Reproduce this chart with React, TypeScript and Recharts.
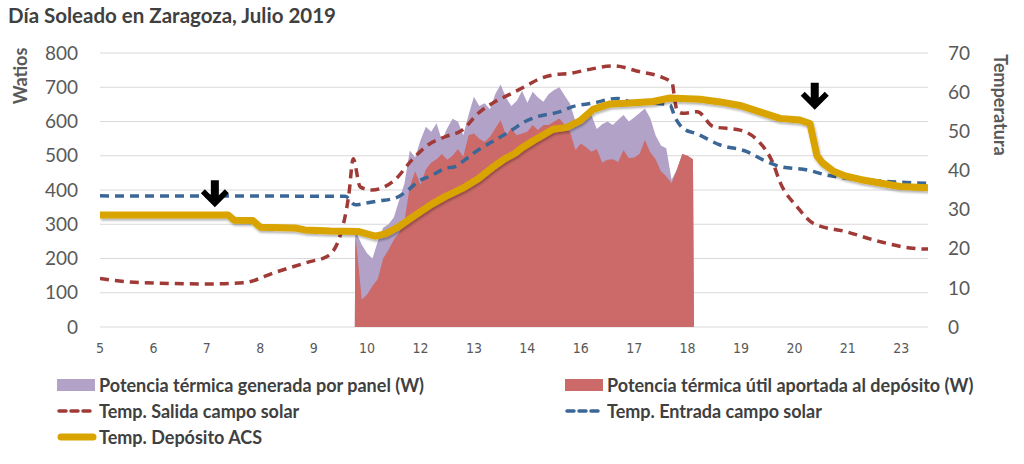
import React from 'react';
import {
  ComposedChart,
  Area,
  Line,
  XAxis,
  YAxis,
  CartesianGrid,
  ReferenceDot,
} from 'recharts';

// Eje X: posición en "huecos" de la etiqueta de hora (eje de categorías de Excel)
const X_LABELS = ['5', '6', '7', '8', '9', '10', '12', '13', '14', '16', '17', '18', '19', '20', '21', '23'];
const X_TICKS = [0, 1, 2, 3, 4, 5, 6, 7, 8, 9, 10, 11, 12, 13, 14, 15];

// Potencias (W)
const T_AREA = [
  4.77, 4.78, 4.8, 4.9, 5.0, 5.1, 5.2, 5.3, 5.4, 5.5, 5.6, 5.7, 5.8, 5.9, 6.0, 6.1, 6.2, 6.3, 6.4,
  6.5, 6.6, 6.7, 6.8, 6.9, 7.0, 7.1, 7.2, 7.3, 7.4, 7.5, 7.6, 7.7, 7.8, 7.9, 8.0, 8.1, 8.2, 8.3,
  8.4, 8.5, 8.6, 8.7, 8.8, 8.9, 9.0, 9.1, 9.2, 9.3, 9.4, 9.5, 9.6, 9.7, 9.8, 9.9, 10.0, 10.1,
  10.2, 10.3, 10.4, 10.5, 10.6, 10.7, 10.8, 10.9, 11.0, 11.1, 11.12,
];
const GENERADA = [
  0, 270, 275, 240, 215, 200, 250, 290, 300, 320, 370, 420, 515, 495, 545, 585, 570, 595, 545,
  580, 608, 600, 560, 620, 672, 645, 653, 636, 680, 708, 670, 645, 660, 690, 655, 687, 670, 658,
  680, 692, 700, 675, 652, 600, 610, 628, 618, 578, 592, 600, 590, 605, 619, 600, 612, 625,
  638, 610, 560, 530, 522, 430, 460, 505, 500, 490, 0,
];
const UTIL = [
  0, 265, 240, 80, 95, 120, 140, 200, 225, 255, 275, 310, 410, 455, 415, 460, 480, 490, 505,
  488, 500, 520, 497, 560, 565, 550, 541, 555, 580, 604, 560, 580, 560, 565, 570, 590, 575, 590,
  590, 600, 609, 590, 570, 517, 536, 525, 512, 520, 480, 488, 490, 482, 517, 493, 495, 505,
  546, 510, 490, 455, 440, 420, 460, 505, 500, 490, 0,
];

// Temperaturas (ºC)
const T_SALIDA = [
  0, 0.8, 2.06, 2.68, 3.31, 3.93, 4.25, 4.49, 4.66, 4.74, 4.87, 5.09, 5.52, 5.84, 6.14, 6.46,
  6.78, 7.08, 7.4, 7.71, 8.03, 8.18, 8.48, 8.8, 9.12, 9.61, 10.11, 10.48, 10.71, 10.76, 10.8,
  10.91, 11.18, 11.48, 11.98, 12.3, 12.6, 12.73, 13.05, 13.35, 13.98, 14.6, 15.22, 15.5,
];
const SALIDA = [
  12.4, 11.3, 11.0, 11.3, 14.1, 16.7, 18.0, 23.1, 34.0, 43.0, 35.8, 35.0, 37.6, 42.7, 46.5, 48.6,
  50.3, 54.6, 57.6, 59.7, 62.0, 63.1, 64.4, 64.8, 65.7, 66.7, 65.2, 64.0, 62.3, 58.0, 55.4,
  54.6, 55.0, 51.2, 50.3, 47.8, 41.8, 37.0, 30.7, 26.5, 24.3, 21.8, 20.1, 19.9,
];

const T_ENTRADA = [
  0, 4.59, 4.78, 4.96, 5.21, 5.52, 5.77, 5.95, 6.22, 6.46, 6.65, 6.83, 7.08, 7.4, 7.71, 7.96,
  8.18, 8.61, 8.85, 9.23, 9.68, 9.92, 10.35, 10.67, 10.76, 10.91, 11.18, 11.61, 12.11, 12.41,
  12.73, 13.24, 13.61, 13.98, 14.6, 15.5,
];
const ENTRADA = [
  33.5, 33.4, 31.2, 31.6, 32.2, 32.9, 35.0, 37.1, 38.8, 40.5, 41.0, 42.7, 45.2, 47.8, 50.3, 52.5,
  53.7, 55.0, 56.3, 57.2, 58.4, 57.6, 57.2, 56.7, 53.7, 50.8, 49.3, 46.5, 44.8, 42.7,
  41.0, 40.1, 38.8, 38.0, 37.3, 36.7,
];

const T_DEPOSITO = [
  0, 2.4, 2.51, 2.86, 3.0, 3.65, 3.84, 4.31, 4.83, 5.15, 5.34, 5.58, 5.84, 6.21, 6.46, 6.78,
  7.08, 7.34, 7.58, 7.77, 7.9, 8.11, 8.48, 8.74, 8.99, 9.23, 9.55, 9.92, 10.35, 10.67, 11.23,
  11.61, 11.98, 12.41, 12.73, 13.1, 13.29, 13.42, 13.52, 13.73, 13.95, 14.23, 14.6, 14.98, 15.5,
];
const DEPOSITO = [
  28.6, 28.6, 27.3, 27.2, 25.5, 25.3, 24.8, 24.5, 24.4, 23.2, 23.8, 25.5, 28.0, 31.4, 33.3, 35.4,
  37.9, 40.7, 43.0, 44.4, 45.8, 47.6, 50.5, 51.0, 52.7, 55.6, 57.0, 57.2, 57.6, 58.5, 58.2,
  57.5, 56.6, 54.7, 53.3, 52.9, 52.0, 43.8, 42.0, 39.8, 38.6, 37.7, 36.8, 35.9, 35.6,
];

// Flechas (posición en el eje X, W)
const FLECHAS = [
  { t: 2.15, w: 350 },
  { t: 13.38, w: 634 },
];

const COLORS = {
  generada: '#B3A2C8',
  util: '#CB6A68',
  salida: '#A03A37',
  entrada: '#3B6797',
  deposito: '#D9A400',
  grid: '#D9D9D9',
  tick: '#595959',
  text: '#404040',
};

const FONT = 'Lato, "Open Sans", sans-serif';
const NARROW = '"Liberation Sans Narrow", "DejaVu Sans Condensed", sans-serif';

const areaData = T_AREA.map((t, i) => ({ t, generada: GENERADA[i], util: UTIL[i] }));
const salidaData = T_SALIDA.map((t, i) => ({ t, salida: SALIDA[i] }));
const entradaData = T_ENTRADA.map((t, i) => ({ t, entrada: ENTRADA[i] }));
const depositoData = T_DEPOSITO.map((t, i) => ({ t, deposito: DEPOSITO[i] }));

const Flecha = ({ cx, cy }: any) => {
  if (cx == null || cy == null) return null;
  const pts = [
    [cx - 4, cy - 27],
    [cx + 4, cy - 27],
    [cx + 4, cy - 12],
    [cx + 10, cy - 18],
    [cx + 14, cy - 14],
    [cx, cy],
    [cx - 14, cy - 14],
    [cx - 10, cy - 18],
    [cx - 4, cy - 12],
  ]
    .map((p) => p.join(','))
    .join(' ');
  return <polygon points={pts} fill="#000" />;
};

const LEGEND = [
  { name: 'Potencia térmica generada por panel (W)', kind: 'area', color: COLORS.generada },
  { name: 'Potencia térmica útil aportada al depósito (W)', kind: 'area', color: COLORS.util },
  { name: 'Temp. Salida campo solar', kind: 'dash', color: COLORS.salida },
  { name: 'Temp. Entrada campo solar', kind: 'dash', color: COLORS.entrada },
  { name: 'Temp. Depósito ACS', kind: 'thick', color: COLORS.deposito },
];

const LegendIcon = ({ kind, color }: { kind: string; color: string }) => (
  <svg width={40} height={14} style={{ marginRight: 2, flexShrink: 0 }}>
    {kind === 'area' && <rect x={0} y={1} width={38} height={12} fill={color} />}
    {kind === 'dash' && (
      <line x1={2} y1={7} x2={38} y2={7} stroke={color} strokeWidth={3.5} strokeDasharray="7 5" strokeLinecap="round" />
    )}
    {kind === 'thick' && (
      <line x1={4} y1={7} x2={36} y2={7} stroke={color} strokeWidth={7} strokeLinecap="round" />
    )}
  </svg>
);

export default function App() {
  return (
    <div style={{ position: 'absolute', left: 0, top: 0, width: 1024, height: 464, background: '#fff', fontFamily: FONT }}>
      <div
        style={{
          position: 'absolute',
          left: 8,
          top: 3,
          fontSize: 20.5,
          fontWeight: 700,
          color: COLORS.text,
          whiteSpace: 'nowrap',
        }}
      >
        Día Soleado en Zaragoza, Julio 2019
      </div>

      <ComposedChart
        width={1024}
        height={464}
        margin={{ top: 53, right: 36, left: 0, bottom: 107 }}
        style={{ position: 'absolute', left: 0, top: 0 }}
      >
        <defs>
          <filter id="sombra" x="-5%" y="-20%" width="110%" height="140%">
            <feDropShadow dx="1" dy="2" stdDeviation="1.2" floodColor="#000" floodOpacity="0.3" />
          </filter>
        </defs>
        <CartesianGrid yAxisId="w" vertical={false} stroke={COLORS.grid} />
        <XAxis
          dataKey="t"
          type="number"
          domain={[0, 15.5]}
          ticks={X_TICKS}
          tickFormatter={(v: number) => X_LABELS[v] ?? ''}
          allowDataOverflow
          axisLine={false}
          tickLine={false}
          tickSize={6}
          tickMargin={10}
          height={30}
          tick={{ fontSize: 14, fill: COLORS.tick, fontFamily: NARROW }}
        />
        <YAxis
          yAxisId="w"
          orientation="left"
          domain={[0, 800]}
          ticks={[0, 100, 200, 300, 400, 500, 600, 700, 800]}
          width={100}
          axisLine={false}
          tickLine={false}
          tickSize={6}
          tickMargin={16}
          tick={{ fontSize: 19, fill: COLORS.tick, fontFamily: FONT }}
          label={{
            content: ({ viewBox }: any) => (
              <text
                x={viewBox.x + 20}
                y={viewBox.y + 23}
                transform={`rotate(-90, ${viewBox.x + 20}, ${viewBox.y + 23})`}
                textAnchor="middle"
                dominantBaseline="central"
                fontSize={18}
                fontWeight={700}
                fill={COLORS.tick}
                fontFamily={FONT}
              >
                Watios
              </text>
            ),
          }}
        />
        <YAxis
          yAxisId="t"
          orientation="right"
          domain={[0, 70]}
          ticks={[0, 10, 20, 30, 40, 50, 60, 70]}
          width={60}
          axisLine={false}
          tickLine={false}
          tickSize={6}
          tickMargin={14}
          tick={{ fontSize: 19, fill: COLORS.tick, fontFamily: FONT }}
          label={{
            content: ({ viewBox }: any) => (
              <text
                x={viewBox.x + 73}
                y={viewBox.y + 52}
                transform={`rotate(90, ${viewBox.x + 73}, ${viewBox.y + 52})`}
                textAnchor="middle"
                dominantBaseline="central"
                fontSize={18}
                fontWeight={700}
                fill={COLORS.tick}
                fontFamily={FONT}
              >
                Temperatura
              </text>
            ),
          }}
        />

        <Area
          yAxisId="w"
          data={areaData}
          dataKey="generada"
          type="linear"
          fill={COLORS.generada}
          fillOpacity={1}
          stroke="none"
          isAnimationActive={false}
        />
        <Area
          yAxisId="w"
          data={areaData}
          dataKey="util"
          type="linear"
          fill={COLORS.util}
          fillOpacity={1}
          stroke="none"
          isAnimationActive={false}
        />
        <Line
          yAxisId="t"
          data={salidaData}
          dataKey="salida"
          type="monotone"
          stroke={COLORS.salida}
          strokeWidth={3.5}
          strokeDasharray="9 6"
          dot={false}
          isAnimationActive={false}
        />
        <Line
          yAxisId="t"
          data={entradaData}
          dataKey="entrada"
          type="monotone"
          stroke={COLORS.entrada}
          strokeWidth={3.5}
          strokeDasharray="9 6"
          dot={false}
          isAnimationActive={false}
        />
        <Line
          yAxisId="t"
          data={depositoData}
          dataKey="deposito"
          type="linear"
          stroke={COLORS.deposito}
          strokeWidth={7}
          strokeLinejoin="round"
          filter="url(#sombra)"
          dot={false}
          isAnimationActive={false}
        />

        {FLECHAS.map((f, i) => (
          <ReferenceDot key={i} yAxisId="w" x={f.t} y={f.w} r={0} shape={<Flecha />} ifOverflow="visible" />
        ))}
      </ComposedChart>

      {/* Leyenda en dos columnas */}
      <div
        style={{
          position: 'absolute',
          left: 57,
          top: 375,
          display: 'grid',
          gridTemplateColumns: '508px 420px',
          rowGap: 6,
          fontSize: 18,
          fontWeight: 700,
          color: COLORS.text,
        }}
      >
        {LEGEND.map((item) => (
          <div key={item.name} style={{ display: 'flex', alignItems: 'center', height: 20, whiteSpace: 'nowrap' }}>
            <LegendIcon kind={item.kind} color={item.color} />
            <span>{item.name}</span>
          </div>
        ))}
      </div>
    </div>
  );
}
